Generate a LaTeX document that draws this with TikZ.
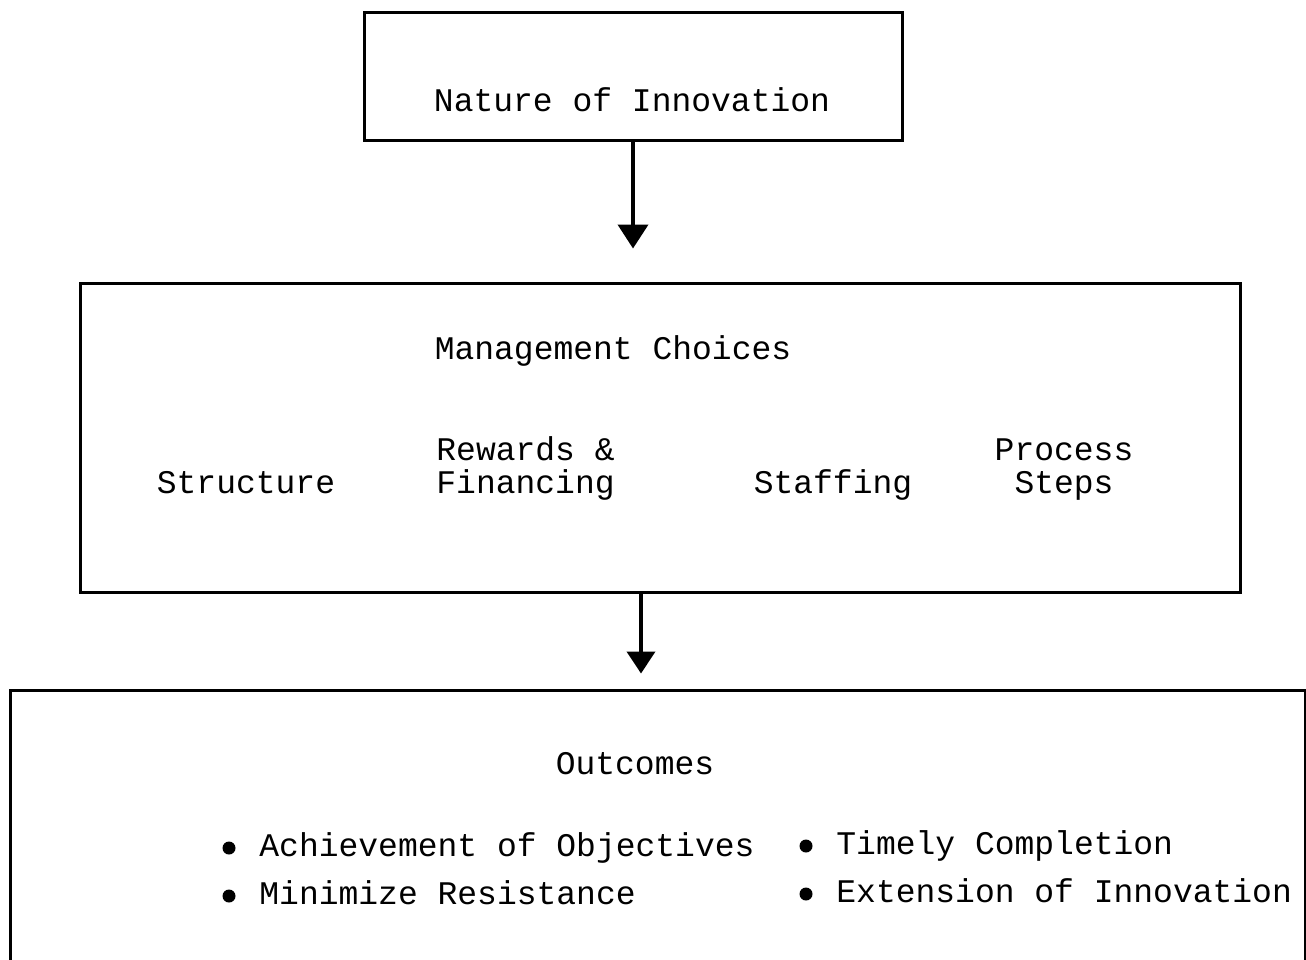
\documentclass[tikz,border=0pt]{standalone}
\usepackage{fontspec}
\newfontfamily\tw{Liberation Mono}
\usetikzlibrary{arrows.meta}
\begin{document}
\begin{tikzpicture}[x=0.5pt,y=-0.5pt,
  box/.style={draw=black,line width=1.5pt,inner sep=0pt},
  lbl/.style={font=\tw\fontsize{16.5}{17}\selectfont,inner sep=0pt,text=black},
  arr/.style={line width=2pt,-{Triangle[width=15pt,length=12pt]}},
  dot/.style={circle,fill=black,inner sep=0pt,minimum size=6.5pt}]
\useasboundingbox (0,0) rectangle (1306,959);
% boxes
\node[box,minimum width=269pt,minimum height=64pt] (nature) at (633,76) {};
\node[box,minimum width=580pt,minimum height=154.5pt] (mgmt) at (660,437.5) {};
\begin{scope}
\clip (0,0) rectangle (1306,959);
\node[box,minimum width=647.5pt,minimum height=150pt] (out) at (657.5,840) {};
\end{scope}
% texts
\node[lbl,anchor=base] (t1) at (632,111) {Nature of Innovation};
\node[lbl,anchor=base] (t2) at (613,359) {Management Choices};
\node[lbl,anchor=base] (c1) at (246,493) {Structure};
\node[lbl,anchor=base west,align=left] (c2) at (436,493) {Rewards \&\\[-0.5pt]Financing};
\node[lbl,anchor=base] (c3) at (833,493) {Staffing};
\node[lbl,anchor=base,align=center] (c4) at (1064,493) {Process\\[-0.5pt]Steps};
\node[lbl,anchor=base] (t3) at (635,774) {Outcomes};
\node[dot] (b1) at (229,848) {};
\node[lbl,anchor=base west] (o1) at (259,856) {Achievement of Objectives};
\node[dot] (b2) at (229,896) {};
\node[lbl,anchor=base west] (o2) at (259,904) {Minimize Resistance};
\node[dot] (b3) at (806,846) {};
\node[lbl,anchor=base west] (o3) at (836,854) {Timely Completion};
\node[dot] (b4) at (806,894) {};
\node[lbl,anchor=base west] (o4) at (836,902) {Extension of Innovation};
% arrows
\draw[arr,shorten >=16.5pt] (nature.south) -- (nature.south |- mgmt.north);
\draw[arr,shorten >=7.5pt,-{Triangle[width=14pt,length=11pt]}] ([xshift=-9.5pt]mgmt.south) -- ([xshift=-9.5pt]mgmt.south |- out.north);
\end{tikzpicture}
\end{document}
